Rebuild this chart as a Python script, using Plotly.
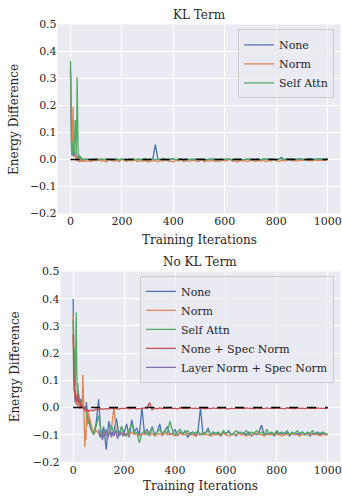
import plotly.graph_objects as go

# ---------------- data ----------------
# x grid: dense early, then every 10 iterations
X_EARLY = [0, 2, 4, 6, 8, 10, 12, 14, 16, 18, 20, 22, 24, 26, 28, 30,
           32, 34, 36, 38, 40, 42, 44, 46, 48, 50, 52, 54, 56, 58, 60]
X_LATE = list(range(70, 1001, 10))
ITERS = X_EARLY + X_LATE

# ---- KL Term ----
kl_none = [0.330, 0.060, 0.030, 0.015, 0.040, 0.020, 0.012, 0.030, 0.018, 0.010,
           0.025, 0.015, 0.008, 0.012, 0.006, 0.010, 0.004, 0.006, 0.002, 0.004,
           0.001, 0.003, 0.000, 0.002, -0.001, 0.001, 0.000, -0.002, 0.001, 0.000, -0.001,
           0.001, -0.002, 0.000, 0.002, -0.001, 0.001, -0.002, 0.000, 0.002, -0.001,
           0.000, 0.001, -0.002, 0.001, 0.000, -0.001, 0.002, 0.000, -0.002, 0.001,
           0.000, -0.001, 0.002, -0.001, 0.000, 0.001, 0.055, 0.000, -0.001, 0.002,
           0.000, -0.002, 0.001, 0.003, -0.001, 0.000, 0.002, -0.001, 0.001, 0.000,
           -0.002, 0.001, 0.002, -0.001, 0.000, 0.001, -0.002, 0.000, 0.002, 0.001,
           -0.001, 0.000, 0.001, -0.002, 0.002, 0.000, -0.001, 0.001, 0.000, 0.002,
           -0.001, 0.000, 0.001, -0.002, 0.001, 0.000, 0.002, -0.001, 0.000, 0.001,
           0.002, -0.001, 0.000, 0.002, 0.001, 0.008, -0.001, 0.002, 0.000, 0.003,
           -0.001, 0.001, 0.002, 0.000, -0.002, 0.001, 0.003, 0.000, -0.001, 0.002,
           0.001, 0.000, -0.002, 0.002]
kl_norm = [0.330, 0.150, 0.060, 0.030, 0.090, 0.195, 0.080, 0.020, 0.010, 0.030,
           0.005, 0.015, -0.005, 0.010, -0.008, 0.004, -0.006, 0.002, -0.010, 0.000,
           -0.004, -0.008, 0.002, -0.006, -0.003, -0.009, 0.001, -0.005, -0.007, 0.000, -0.006,
           -0.005, -0.008, -0.002, -0.006, 0.003, -0.007, -0.004, -0.009, 0.002, -0.005,
           -0.006, -0.003, -0.008, 0.004, -0.005, -0.007, -0.002, -0.006, 0.001, -0.008,
           -0.004, -0.007, -0.003, -0.009, -0.005, -0.006, -0.002, -0.008, -0.004, -0.006,
           0.002, -0.007, -0.005, -0.009, -0.003, -0.006, 0.003, -0.008, -0.004, -0.007,
           -0.005, -0.002, -0.008, -0.006, 0.002, -0.009, -0.004, -0.006, -0.003, -0.007,
           -0.005, -0.008, -0.002, -0.006, -0.004, 0.003, -0.007, -0.005, -0.009, -0.003,
           -0.006, -0.004, -0.008, 0.001, -0.005, -0.007, -0.003, -0.006, -0.002, -0.008,
           -0.004, -0.006, 0.002, -0.005, -0.007, -0.003, -0.006, -0.004, 0.001, -0.005,
           -0.003, -0.006, -0.002, -0.005, 0.002, -0.004, -0.003, -0.006, -0.001, -0.004,
           -0.003, -0.002, -0.004, 0.001]
kl_attn = [0.365, 0.070, 0.040, 0.020, 0.065, 0.030, 0.050, 0.015, 0.060, 0.145,
           0.140, 0.020, 0.100, 0.305, 0.050, 0.010, 0.020, 0.005, 0.015, 0.003,
           0.010, 0.002, 0.006, -0.002, 0.004, 0.000, 0.003, -0.001, 0.002, 0.000, 0.001,
           0.001, -0.001, 0.002, 0.000, -0.002, 0.001, 0.000, 0.002, -0.001, 0.001,
           0.000, 0.002, -0.001, 0.000, 0.001, -0.002, 0.001, 0.002, 0.000, -0.001,
           0.001, 0.000, 0.002, -0.001, 0.001, 0.000, -0.001, 0.002, 0.000, 0.001,
           -0.002, 0.001, 0.000, 0.002, -0.001, 0.001, 0.000, -0.001, 0.002, 0.000,
           0.001, -0.001, 0.000, 0.002, 0.001, -0.002, 0.000, 0.001, 0.002, -0.001,
           0.000, 0.001, -0.001, 0.002, 0.000, 0.001, -0.002, 0.001, 0.000, 0.002,
           -0.001, 0.000, 0.001, 0.002, -0.001, 0.000, 0.001, -0.001, 0.002, 0.000,
           0.001, 0.002, 0.000, -0.001, 0.001, 0.003, 0.000, 0.002, -0.001, 0.001,
           0.002, 0.000, 0.001, 0.003, -0.001, 0.002, 0.001, 0.000, 0.002, 0.001,
           0.003, 0.002, 0.001, 0.004]

# ---- No KL Term ----
nokl_none = [0.400, 0.150, 0.080, 0.040, 0.020, 0.035, 0.010, 0.030, 0.015, 0.040,
             0.065, 0.030, 0.015, 0.035, 0.020, 0.010, 0.030, 0.005, 0.012, 0.000,
             0.008, -0.005, 0.002, -0.008, 0.005, -0.012, 0.020, 0.000, -0.020, -0.040, -0.030,
             -0.080, -0.095, -0.060, 0.030, -0.110, -0.070, -0.155, -0.050, -0.100, -0.085,
             -0.040, -0.105, -0.070, -0.095, -0.060, -0.110, -0.045, -0.090, -0.075, -0.100,
             0.000, -0.095, -0.080, -0.105, -0.070, -0.100, -0.090, -0.060, -0.105, -0.085,
             -0.070, -0.100, -0.095, -0.080, -0.105, -0.090, -0.100, -0.085, -0.110, -0.095,
             -0.090, -0.105, -0.090, 0.000, -0.100, -0.095, -0.075, -0.105, -0.090, -0.100,
             -0.095, -0.105, -0.090, -0.100, -0.085, -0.100, -0.095, -0.105, -0.090, -0.100,
             -0.095, -0.100, -0.090, -0.105, -0.095, -0.100, -0.090, -0.065, -0.100, -0.095,
             -0.100, -0.095, -0.105, -0.090, -0.100, -0.095, -0.100, -0.090, -0.105, -0.095,
             -0.100, -0.095, -0.100, -0.090, -0.100, -0.095, -0.105, -0.095, -0.100, -0.095,
             -0.100, -0.095, -0.100, -0.100]
nokl_norm = [0.340, 0.200, 0.080, 0.040, 0.060, 0.020, 0.030, 0.010, 0.020, 0.005,
             0.010, 0.000, 0.005, -0.005, 0.000, 0.003, -0.002, 0.005, 0.020, 0.120,
             0.040, -0.060, -0.100, -0.145, -0.080, -0.120, -0.030, -0.070, -0.010, -0.050, -0.020,
             -0.060, -0.100, -0.085, -0.095, -0.105, -0.090, -0.100, -0.095, -0.080, 0.000,
             -0.095, -0.100, -0.090, -0.105, -0.095, -0.100, -0.090, -0.100, -0.095, -0.105,
             -0.095, -0.100, -0.090, -0.100, -0.095, -0.105, -0.100, -0.095, -0.100, -0.095,
             -0.100, -0.095, -0.100, -0.105, -0.100, -0.095, -0.100, -0.100, -0.095, -0.100,
             -0.100, -0.105, -0.100, -0.100, -0.095, -0.100, -0.100, -0.105, -0.100, -0.100,
             -0.100, -0.100, -0.095, -0.100, -0.105, -0.100, -0.100, -0.100, -0.095, -0.100,
             -0.100, -0.105, -0.100, -0.100, -0.100, -0.095, -0.100, -0.100, -0.105, -0.100,
             -0.100, -0.100, -0.095, -0.100, -0.100, -0.105, -0.100, -0.100, -0.100, -0.095,
             -0.100, -0.100, -0.105, -0.100, -0.100, -0.100, -0.095, -0.100, -0.100, -0.100,
             -0.105, -0.100, -0.100, -0.100]
nokl_attn = [0.320, 0.100, 0.220, 0.150, 0.080, 0.200, 0.350, 0.150, 0.060, 0.090,
             0.040, 0.050, 0.020, 0.030, 0.010, 0.015, 0.005, 0.008, 0.000, 0.003,
             -0.005, 0.000, -0.008, -0.003, -0.010, -0.005, -0.020, -0.040, -0.030, -0.060, -0.050,
             -0.080, -0.100, -0.070, -0.030, -0.090, -0.110, -0.080, -0.100, -0.065, -0.095,
             -0.085, -0.100, -0.070, -0.095, -0.105, -0.080, -0.060, -0.095, -0.090, -0.130,
             -0.095, -0.085, -0.100, -0.090, -0.075, -0.100, -0.090, -0.080, -0.095, -0.085,
             -0.095, -0.050, -0.085, -0.100, -0.090, -0.080, -0.095, -0.090, -0.085, -0.100,
             -0.090, -0.095, -0.085, -0.100, -0.090, -0.095, -0.085, -0.100, -0.090, -0.095,
             -0.090, -0.100, -0.085, -0.095, -0.090, -0.100, -0.095, -0.085, -0.095, -0.090,
             -0.095, -0.085, -0.100, -0.090, -0.095, -0.085, -0.095, -0.090, -0.100, -0.080,
             -0.095, -0.090, -0.100, -0.085, -0.095, -0.090, -0.095, -0.085, -0.100, -0.090,
             -0.095, -0.085, -0.095, -0.090, -0.100, -0.090, -0.095, -0.085, -0.095, -0.090,
             -0.095, -0.090, -0.095, -0.100]
nokl_spec = [0.270, 0.150, 0.060, 0.100, 0.030, 0.060, 0.020, 0.045, 0.030, 0.050,
             0.020, 0.035, 0.010, 0.025, 0.005, 0.015, 0.000, 0.010, -0.003, 0.005,
             -0.005, 0.002, -0.010, -0.005, -0.012, -0.008, -0.015, -0.005, -0.012, -0.008, -0.015,
             -0.010, -0.012, -0.006, -0.008, -0.004, -0.007, -0.003, -0.006, -0.002, -0.005,
             -0.003, -0.006, -0.002, -0.004, -0.001, -0.005, -0.003, -0.002, -0.006, -0.003,
             -0.004, -0.001, -0.003, 0.018, -0.008, -0.002, -0.005, -0.001, -0.004, -0.002,
             -0.003, -0.001, -0.004, -0.002, -0.005, -0.001, -0.003, -0.002, -0.004, -0.001,
             -0.003, -0.002, -0.004, -0.001, -0.003, -0.005, -0.002, -0.004, -0.001, -0.003,
             -0.002, -0.004, -0.001, -0.003, -0.006, -0.002, -0.004, -0.001, -0.003, -0.002,
             -0.004, -0.001, -0.003, -0.002, -0.005, -0.001, -0.003, -0.002, -0.004, -0.001,
             -0.003, -0.002, -0.004, -0.001, -0.003, -0.002, -0.005, -0.001, -0.003, -0.002,
             -0.004, -0.001, -0.003, -0.002, -0.004, -0.001, -0.003, -0.002, -0.004, -0.001,
             -0.003, -0.002, -0.004, -0.002]
LAYER_X = [100, 105, 110, 115, 120, 125, 130, 135, 140, 145, 150, 155,
           160, 165, 170, 175, 180, 185, 190, 195, 200, 205, 210]
nokl_layer = [-0.080, -0.110, -0.095, -0.120, -0.090, -0.105, -0.085, -0.115, -0.100,
              -0.090, -0.110, -0.095, -0.105, -0.085, -0.100, -0.115, -0.095, -0.100,
              -0.090, -0.105, -0.095, -0.100, -0.095]

ZERO_X = [0, 1000]
ZERO_Y = [0, 0]

X_TICKS = [0, 200, 400, 600, 800, 1000]
Y_TICKS = [-0.2, -0.1, 0.0, 0.1, 0.2, 0.3, 0.4, 0.5]

COLORS = {"None": "#4C72B0", "Norm": "#DD8452", "Self Attn": "#55A868",
          "None + Spec Norm": "#C44E52", "Layer Norm + Spec Norm": "#8172B3"}

# ---------------- figure ----------------
W, H = 342, 502
FONT = "DejaVu Serif"
TXT = "#262626"

fig = go.Figure()

def add(x, y, name, xa, ya, legend):
    fig.add_trace(go.Scatter(x=x, y=y, mode="lines", name=name,
                             line=dict(color=COLORS[name], width=1.3),
                             xaxis=xa, yaxis=ya, legend=legend))

add(ITERS, kl_none, "None", "x", "y", "legend")
add(ITERS, kl_norm, "Norm", "x", "y", "legend")
add(ITERS, kl_attn, "Self Attn", "x", "y", "legend")
fig.add_trace(go.Scatter(x=ZERO_X, y=ZERO_Y, mode="lines", showlegend=False,
                         line=dict(color="black", width=1.4, dash="dash"), xaxis="x", yaxis="y"))

add(ITERS, nokl_none, "None", "x2", "y2", "legend2")
add(ITERS, nokl_norm, "Norm", "x2", "y2", "legend2")
add(ITERS, nokl_attn, "Self Attn", "x2", "y2", "legend2")
add(ITERS, nokl_spec, "None + Spec Norm", "x2", "y2", "legend2")
add(LAYER_X, nokl_layer, "Layer Norm + Spec Norm", "x2", "y2", "legend2")
fig.add_trace(go.Scatter(x=ZERO_X, y=ZERO_Y, mode="lines", showlegend=False,
                         line=dict(color="black", width=1.4, dash="dash"), xaxis="x2", yaxis="y2"))

def px_x(p):
    return p / W

def px_y(p):
    return 1 - p / H

axis_common = dict(showgrid=True, gridcolor="white", gridwidth=1, zeroline=False,
                   showline=False, ticks="", ticklabeloverflow="allow",
                   tickfont=dict(family=FONT, size=11, color=TXT))

legend_common = dict(xanchor="right", yanchor="top", bgcolor="rgba(234,234,242,0.8)",
                     bordercolor="#CCCCCC", borderwidth=1,
                     font=dict(family=FONT, size=11, color=TXT))

fig.update_layout(
    width=W, height=H, margin=dict(l=0, r=0, t=0, b=0),
    paper_bgcolor="white", plot_bgcolor="#EAEAF2",
    font=dict(family=FONT, color=TXT),
    xaxis=dict(domain=[px_x(57.8), px_x(341.5)], range=[-50, 1050], tickvals=X_TICKS,
               anchor="y", **axis_common),
    yaxis=dict(domain=[px_y(213), px_y(19)], range=[-0.2, 0.5], tickvals=Y_TICKS,
               tickformat=".1f", anchor="x", **axis_common),
    xaxis2=dict(domain=[px_x(60.6), px_x(341.5)], range=[-50, 1050], tickvals=X_TICKS,
                anchor="y2", **axis_common),
    yaxis2=dict(domain=[px_y(468), px_y(272.7)], range=[-0.2, 0.5], tickvals=Y_TICKS,
                tickformat=".1f", anchor="x2", **axis_common),
    legend=dict(x=px_x(335), y=px_y(24), **legend_common),
    legend2=dict(x=px_x(335), y=px_y(277), **legend_common),
    showlegend=True,
)

ann = [
    ("KL Term", (57.8 + 341.5) / 2, 9, 0),
    ("Training Iterations", (57.8 + 341.5) / 2, 240, 0),
    ("Energy Difference", 14, 116, -90),
    ("No KL Term", (60.6 + 341.5) / 2, 263, 0),
    ("Training Iterations", (60.6 + 341.5) / 2, 493, 0),
    ("Energy Difference", 15, 370, -90),
]
for text, ax_, ay_, rot in ann:
    fig.add_annotation(text=text, x=px_x(ax_), y=px_y(ay_), xref="paper", yref="paper",
                       showarrow=False, textangle=rot, xanchor="center", yanchor="middle",
                       font=dict(family=FONT, size=12, color=TXT))

# remove the default 8px page margin so the 342x502 figure sits at the window origin
fig.write_html("out.html", config={"displayModeBar": False},
               post_script="document.body.style.margin='0';")
